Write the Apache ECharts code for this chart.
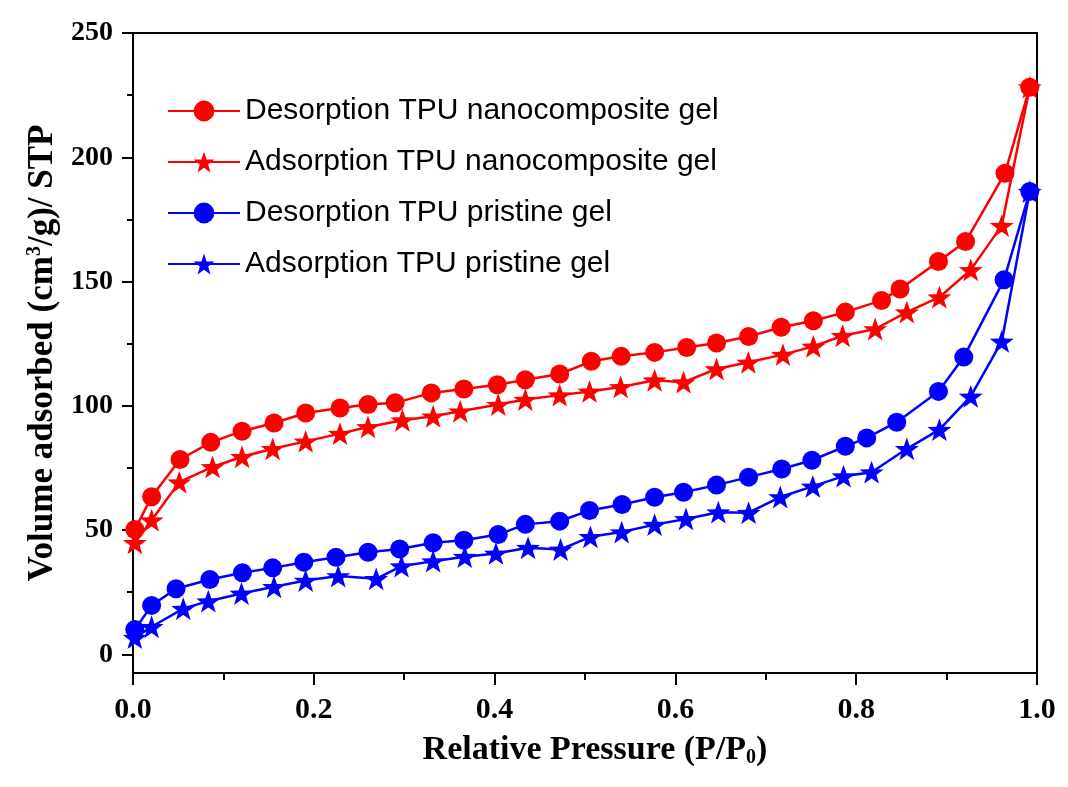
<!DOCTYPE html>
<html>
<head>
<meta charset="utf-8">
<script src="https://cdn.jsdelivr.net/npm/echarts@6/dist/echarts.min.js"></script>
<style>
html,body{margin:0;padding:0;background:#fff;}
#chart{width:1068px;height:787px;}
</style>
</head>
<body>
<div id="chart"></div>
<script>
// ---- data ----
const seriesNames = [
  'Desorption TPU nanocomposite gel',
  'Adsorption TPU nanocomposite gel',
  'Desorption TPU pristine gel',
  'Adsorption TPU pristine gel'
];
const redDesX = [0.002,0.0206,0.052,0.086,0.1206,0.156,0.191,0.229,0.260,0.290,0.330,0.366,0.403,0.434,0.472,0.507,0.540,0.577,0.6125,0.6455,0.681,0.717,0.7526,0.788,0.828,0.8485,0.891,0.921,0.9646,0.992];
const redDesY = [50.2,63.4,78.4,85.3,89.8,93.1,97.1,99.1,100.5,101.2,105.2,106.8,108.5,110.5,112.8,117.9,119.9,121.5,123.5,125.3,127.9,131.6,134.2,137.7,142.4,147.0,158.1,166.1,193.6,228.2];
const redAdsX = [0.002,0.0206,0.0512,0.088,0.1206,0.1545,0.191,0.229,0.260,0.298,0.332,0.362,0.404,0.434,0.472,0.505,0.5395,0.577,0.609,0.6455,0.6807,0.719,0.7526,0.785,0.821,0.856,0.892,0.9267,0.961,0.992];
const redAdsY = [44.9,54.0,69.3,75.4,79.5,82.7,85.7,88.8,91.5,94.2,95.8,97.8,100.5,102.5,104.3,105.8,107.6,110.3,109.5,114.8,117.5,120.6,123.9,128.2,130.9,137.7,143.7,154.7,172.5,228.2];
const blueDesX = [0.002,0.0206,0.0476,0.085,0.121,0.1545,0.189,0.2246,0.260,0.295,0.332,0.366,0.404,0.434,0.472,0.505,0.541,0.577,0.609,0.6455,0.681,0.7176,0.751,0.788,0.8116,0.8448,0.891,0.919,0.9635,0.992];
const blueDesY = [10.0,19.7,26.4,30.1,32.8,34.8,37.1,39.1,41.1,42.4,44.9,45.9,48.2,52.3,53.6,57.9,60.3,63.2,65.2,68.1,71.3,74.6,78.1,83.7,87.1,93.4,105.8,119.6,150.7,186.2];
const blueAdsX = [0.002,0.0206,0.0556,0.0833,0.120,0.156,0.191,0.227,0.269,0.297,0.332,0.367,0.4015,0.437,0.473,0.506,0.5406,0.577,0.6117,0.6475,0.681,0.716,0.752,0.786,0.817,0.856,0.892,0.9267,0.961,0.992];
const blueAdsY = [6.7,11.1,18.4,21.4,24.5,27.2,29.7,31.5,30.4,35.5,37.5,39.3,40.6,42.9,42.2,47.3,49.2,52.2,54.5,57.2,57.0,63.3,67.6,71.7,73.3,82.7,90.4,103.8,125.9,186.2];
const yMajorTicks = [0,50,100,150,200,250];
const yMinorTicks = [25,75,125,175,225];

// ---- chart ----
const STAR = 'path://M50 0 L61.76 33.82 L97.55 34.55 L69.02 56.18 L79.39 90.45 L50 70 L20.61 90.45 L30.98 56.18 L2.45 34.55 L38.24 33.82 Z';
const zip = (xs, ys) => xs.map((x, i) => [x, ys[i]]);
const serif = 'Liberation Serif';

function mkSeries(name, xs, ys, color, star) {
  return {
    name: name,
    type: 'line',
    data: zip(xs, ys),
    symbol: star ? STAR : 'circle',
    symbolSize: star ? 24 : 19,
    symbolKeepAspect: true,
    itemStyle: {color: color},
    lineStyle: {color: color, width: 2.5},
    emphasis: {disabled: true},
    animation: false
  };
}

const chart = echarts.init(document.getElementById('chart'));
chart.setOption({
  backgroundColor: '#fff',
  animation: false,
  grid: {left: 133, right: 31, top: 33, bottom: 114, show: true, borderColor: '#000', borderWidth: 2, backgroundColor: 'transparent'},
  legend: {
    orient: 'vertical', left: 162, top: 91,
    itemWidth: 72, itemHeight: 26, itemGap: 21,
    textStyle: {fontFamily: 'Liberation Sans', fontSize: 30, color: '#000', padding: [0, 0, 0, 0]},
    data: seriesNames
  },
  xAxis: {
    type: 'value', min: 0, max: 1, interval: 0.2,
    axisLine: {show: true, onZero: false, lineStyle: {color: '#000', width: 2}},
    axisTick: {show: true, inside: false, length: 12, lineStyle: {color: '#000', width: 2}},
    minorTick: {show: true, splitNumber: 2, length: 7, lineStyle: {color: '#000', width: 2}},
    splitLine: {show: false}, minorSplitLine: {show: false},
    axisLabel: {formatter: v => v.toFixed(1), fontFamily: serif, fontWeight: 'bold', fontSize: 30, color: '#000', margin: 22},
    name: 'Relative Pressure (P/P{sub|0})',
    nameLocation: 'middle', nameGap: 59,
    nameTextStyle: {fontFamily: serif, fontWeight: 'bold', fontSize: 34, color: '#000', padding: [0, 0, 0, 20],
      rich: {sub: {fontFamily: serif, fontWeight: 'bold', fontSize: 20, verticalAlign: 'bottom', padding: [16, 0, 0, 0]}}}
  },
  yAxis: [{
    type: 'value', min: -7.5, max: 250,
    axisLine: {show: true, onZero: false, lineStyle: {color: '#000', width: 2}},
    axisTick: {show: true, inside: false, length: 11, customValues: yMajorTicks, lineStyle: {color: '#000', width: 2}},
    splitLine: {show: false},
    axisLabel: {customValues: yMajorTicks, fontFamily: serif, fontWeight: 'bold', fontSize: 28, color: '#000', margin: 20},
    name: 'Volume adsorbed (cm{sup|3}/g)/ STP',
    nameLocation: 'middle', nameGap: 72, nameRotate: 90,
    nameTextStyle: {fontFamily: serif, fontWeight: 'bold', fontSize: 35, color: '#000',
      rich: {sup: {fontFamily: serif, fontWeight: 'bold', fontSize: 20, verticalAlign: 'top', padding: [0, 0, 16, 0]}}}
  }, {
    type: 'value', min: -7.5, max: 250, position: 'left',
    axisLine: {show: false},
    axisTick: {show: true, inside: false, length: 6, customValues: yMinorTicks, lineStyle: {color: '#000', width: 2}},
    axisLabel: {show: false},
    splitLine: {show: false}
  }],
  series: [
    mkSeries(seriesNames[0], redDesX, redDesY, '#ff0000', false),
    mkSeries(seriesNames[1], redAdsX, redAdsY, '#ff0000', true),
    mkSeries(seriesNames[2], blueDesX, blueDesY, '#0000ff', false),
    mkSeries(seriesNames[3], blueAdsX, blueAdsY, '#0000ff', true)
  ]
});
</script>
</body>
</html>
